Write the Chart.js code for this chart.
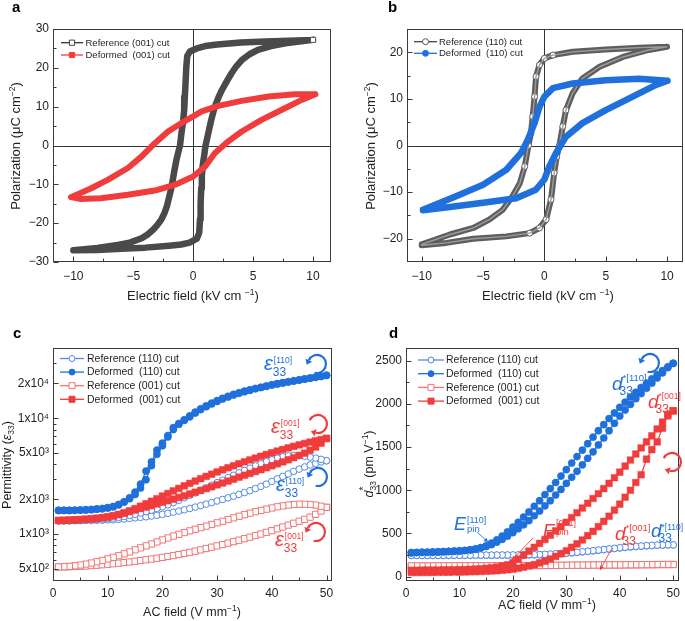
<!DOCTYPE html>
<html>
<head>
<meta charset="utf-8">
<script src="https://cdn.jsdelivr.net/npm/chart.js@4.4.1/dist/chart.umd.min.js"></script>
<style>
  body { margin: 0; background: #fff; }
  #wrap { position: relative; width: 685px; height: 621px; }
  canvas { position: absolute; }
</style>
</head>
<body>
<div id="wrap">
  <canvas id="pa" width="342" height="310" style="left:0;top:0"></canvas>
  <canvas id="pb" width="343" height="310" style="left:342px;top:0"></canvas>
  <canvas id="pc" width="342" height="311" style="left:0;top:310px"></canvas>
  <canvas id="pd" width="343" height="311" style="left:342px;top:310px"></canvas>
</div>
<script>
// ---- panel a : P-E loops, (001) cut ----
const aNames = ['Reference (001) cut', 'Deformed  (001) cut'];
const aRefE = [10, 8, 6, 4, 2, 1, 0.3, -0.28, -0.5, -0.58, -0.64, -0.7, -0.75, -0.85, -0.98, -1.1, -1.25, -1.4, -1.6, -1.8, -2.0, -2.2, -2.4, -2.65, -3.0, -3.35, -3.8, -4.3, -5.3, -6.3, -8, -10,
               -10, -8, -6, -4, -2, -1, -0.3, 0.3, 0.5, 0.57, 0.62, 0.67, 0.72, 0.8, 0.92, 1.03, 1.15, 1.26, 1.5, 1.8, 2.1, 2.4, 2.8, 3.2, 3.6, 4.05, 4.7, 5.4, 6.5, 7.7, 10];
const aRefP = [27.2, 27.0, 26.8, 26.5, 26.0, 25.6, 25.0, 24.2, 23.0, 20.0, 16.0, 12.5, 9.2, 6.0, 3.2, 0.0, -1.8, -3.7, -7.0, -10.6, -13.2, -15.7, -17.4, -19.0, -20.5, -21.7, -22.9, -23.9, -25.0, -25.6, -26.4, -27.0,
               -27.0, -26.9, -26.6, -26.3, -25.8, -25.5, -25.0, -24.0, -22.5, -19.0, -15.0, -11.0, -8.0, -5.0, -2.5, 0.0, 1.6, 3.2, 6.5, 10.0, 12.3, 14.3, 16.5, 18.6, 20.4, 22.0, 23.5, 24.6, 25.6, 26.3, 27.2];
const aDefE = [10.2, 8.5, 6.3, 4.05, 2.1, 0.7, 0, -1, -2.1, -3.2, -4.3, -5.45, -7.1, -8.5, -10.2,
               -9.35, -7.7, -5.45, -3.2, -1.5, 0, 1, 1.8, 2.9, 4.05, 5.7, 7.4, 9.1, 10.2];
const aDefP = [13.2, 13.2, 12.6, 11.5, 10.2, 8.8, 7.5, 5.75, 3.6, 0.6, -2.8, -5.8, -8.8, -11, -13.3,
               -13.8, -13.6, -12.7, -11.6, -10.1, -8, -5.4, -2, 1, 3.6, 6.6, 9.2, 11.8, 13.2];

// ---- panel b : P-E loops, (110) cut ----
const bNames = ['Reference (110) cut', 'Deformed  (110) cut'];
const bRefE = [10, 7.7, 5, 2.3, 0.7, 0, -0.4, -0.68, -0.8, -0.95, -1.1, -1.3, -1.6, -2.0, -2.6, -3.4, -4.5, -5.8, -7.7, -10,
               -10, -8, -5.8, -3.1, -1.2, -0.4, 0.14, 0.54, 0.8, 1.0, 1.22, 1.5, 1.76, 2.3, 3.1, 4.5, 6.4, 8.5, 10];
const bRefP = [21.2, 21.0, 20.6, 20.1, 19.4, 18.7, 17.3, 14.8, 10.5, 6.2, 2.6, 0, -4.5, -8.1, -10.9, -13.8, -15.9, -17.7, -19.1, -21.2,
               -21.4, -20.9, -20.0, -19.5, -18.8, -17.7, -15.9, -11.6, -5.9, -2.4, 0, 4.1, 7.6, 11.2, 14.4, 16.9, 19.0, 20.5, 21.2];
const bDefE = [10.04, 7.7, 5, 2.3, 0.7, 0, -0.4, -0.8, -1.36, -1.9, -3.1, -5, -7.2, -9.9,
               -9.9, -7.7, -5, -2.3, -0.7, 0, 0.4, 0.95, 1.76, 3.1, 5, 7.2, 9.1, 10.04];
const bDefP = [13.9, 14.3, 14.0, 13.3, 12.3, 10.5, 8.3, 4.8, 1.2, -1.6, -5.2, -8.4, -10.9, -13.8,
               -13.9, -13.2, -12.3, -11.3, -9.5, -7.3, -4.5, -1.6, 1.9, 4.8, 7.6, 10.5, 13, 13.9];

// ---- panels c, d : AC field sweeps (up and down, listed at the same field steps) ----
const cdNames = ['Reference (110) cut', 'Deformed  (110) cut', 'Reference (001) cut', 'Deformed  (001) cut'];
const acField = [1,2,3,4,5,6,7,8,9,10,11,12,13,14,15,16,17,18,19,20,21,22,23,24,25,26,27,28,29,30,31,32,33,34,35,36,37,38,39,40,41,42,43,44,45,46,47,48,49,50];

const cDef110Up = [1600,1600,1600,1605,1610,1615,1625,1640,1655,1680, 1720,1790,1900,2060,2300,2700,3500,4200,5300,6100,
  7100,8300,9000,9700,10500,11300,12100,12800,13500,14200, 14900,15500,16100,16600,17150,17600,18100,18550,19000,19500,
  19900,20300,20700,21100,21500,21900,22300,22700,23100,23500];
const cDef110Down = [1600,1600,1600,1605,1610,1620,1630,1645,1660,1690, 1730,1800,1890,2020,2200,2500,2950,3900,4900,5800,
  6900,8000,8900,9600,10300,11100,11900,12600,13300,14000, 14700,15300,15900,16450,17000,17500,18000,18450,18900,19400,
  19800,20200,20600,21000,21400,21800,22200,22600,23000,23500];
const cRef110Up = [1300,1300,1300,1305,1305,1310,1310,1315,1320,1325, 1330,1340,1350,1365,1380,1395,1410,1430,1455,1480,
  1510,1545,1580,1620,1665,1710,1760,1815,1870,1930, 1990,2055,2125,2200,2280,2370,2470,2580,2700,2850,
  3000,3150,3310,3480,3640,3800,3950,4080,4200,4300];
const cRef110Down = [1300,1300,1305,1310,1315,1320,1325,1335,1345,1360, 1375,1395,1420,1450,1480,1520,1560,1610,1660,1720,
  1790,1870,1960,2060,2160,2270,2390,2510,2640,2780, 2920,3070,3220,3380,3540,3710,3880,4050,4220,4380,
  4520,4650,4740,4780,4760,4700,4620,4530,4420,4300];
const cDef001Up = [1310,1315,1320,1325,1330,1340,1350,1365,1380,1400, 1430,1470,1510,1560,1610,1660,1710,1760,1820,1880,
  1940,2000,2070,2140,2220,2300,2380,2470,2560,2660, 2760,2870,2980,3100,3220,3340,3470,3600,3740,3890,
  4040,4200,4380,4570,4780,5000,5300,5650,6100,6700];
const cDef001Down = [1310,1315,1320,1325,1335,1345,1355,1370,1390,1410, 1440,1480,1530,1590,1660,1740,1830,1920,2020,2130,
  2240,2360,2480,2610,2740,2870,3010,3150,3290,3440, 3590,3740,3890,4050,4210,4370,4530,4700,4870,5040,
  5210,5380,5550,5720,5890,6060,6230,6400,6550,6700];
const cRef001Up = [520,520,522,524,527,530,534,538,543,548, 554,560,567,574,582,590,599,608,618,628,
  640,652,665,680,695,712,730,750,770,790, 812,835,860,885,912,940,970,1000,1035,1070,
  1110,1150,1195,1240,1290,1340,1400,1480,1580,1700];
const cRef001Down = [520,522,526,532,540,550,562,576,592,610, 630,650,675,700,730,760,790,820,855,890,
  925,960,995,1030,1065,1100,1135,1170,1210,1250, 1290,1335,1380,1425,1470,1515,1560,1600,1640,1680,
  1720,1750,1780,1800,1810,1810,1800,1780,1740,1700];

const dDef110Up = [278,280,282,283,285,287,289,292,295,298, 303,310,320,333,350,372,400,432,470,510,
  555,600,650,705,760,820,880,945,1010,1080, 1150,1220,1295,1370,1445,1525,1605,1690,1775,1860,
  1930,1995,2060,2120,2180,2240,2300,2360,2420,2470];
const dDef110Down = [278,280,282,283,285,287,289,292,295,298, 303,310,320,336,358,388,425,470,520,575,
  630,690,750,815,880,950,1020,1090,1165,1240, 1315,1390,1465,1540,1615,1690,1760,1830,1895,1960,
  2020,2080,2135,2190,2240,2290,2340,2385,2430,2470];
const dRef110Up = [245,245,245,245,245,245,245,245,246,246, 246,246,247,247,247,247,248,248,248,248,
  249,250,251,252,253,255,258,262,266,270, 275,280,286,292,298,305,312,318,325,332,
  338,343,348,352,356,360,363,365,367,368];
const dRef110Down = [247,247,247,247,247,247,248,248,248,248, 249,249,249,250,250,250,251,251,251,252,
  252,253,254,255,257,259,262,265,269,273, 278,283,289,295,301,308,315,321,328,335,
  341,346,351,355,359,362,365,367,369,368];
const dDef001Up = [48,49,49,50,50,51,52,53,54,55, 56,57,59,61,63,66,70,74,80,88,
  98,110,125,140,160,180,205,235,265,300, 340,380,425,475,525,580,640,700,770,840,
  920,1000,1090,1180,1360,1470,1560,1720,1880,1920];
const dDef001Down = [75,75,76,76,77,77,78,79,80,81, 83,85,88,92,97,103,111,122,136,160,
  205,250,295,340,385,430,480,530,580,630, 685,740,795,850,905,960,1020,1080,1145,1210,
  1280,1350,1420,1490,1560,1630,1710,1790,1860,1920];
const dRef001Up = [122,122,122,123,123,123,123,124,124,124, 124,125,125,125,125,126,126,126,126,127,
  127,127,128,128,128,129,129,130,130,131, 131,132,132,133,133,134,134,135,135,136,
  136,137,137,138,138,139,139,140,140,141];
const dRef001Down = [124,124,124,124,125,125,125,125,126,126, 126,126,127,127,127,127,128,128,128,128,
  129,129,129,130,130,130,131,131,132,132, 133,133,134,134,135,135,136,136,137,137,
  138,138,139,139,140,140,141,141,141,141];

// ---- tick values / labels ----
const peTicks = [-10, -5, 0, 5, 10];
const peLabels = ['\u221210', '\u22125', '0', '5', '10'];
const peMinor = [-7.5, -2.5, 2.5, 7.5];
const aYTicks = [-30, -20, -10, 0, 10, 20, 30];
const aYLabels = ['\u221230', '\u221220', '\u221210', '0', '10', '20', '30'];
const aYMinor = [-25, -15, -5, 5, 15, 25];
const bYTicks = [-20, -10, 0, 10, 20];
const bYLabels = ['\u221220', '\u221210', '0', '10', '20'];
const bYMinor = [-15, -5, 5, 15];
const acTicks = [0, 10, 20, 30, 40, 50];
const acMinor = [5, 15, 25, 35, 45];
const cYTicks = [500, 1000, 2000, 5000, 10000, 20000];
const cYLabels = ['5x10\u00b2', '1x10\u00b3', '2x10\u00b3', '5x10\u00b3', '1x10\u2074', '2x10\u2074'];
const cYMinor = [600, 700, 800, 900, 3000, 4000, 6000, 7000, 8000, 9000, 30000];
const dYTicks = [0, 500, 1000, 1500, 2000, 2500];
const dYMinor = [250, 750, 1250, 1750, 2250];

const FONT = '"Liberation Sans", Arial, Helvetica, sans-serif';
const INK = '#1f1f1f';
const BLUE = '#1f6fdc', RED = '#f03c3c', LBLUE = '#5288e4', LRED = '#f27474', GREY = '#4a4a4a';

Chart.defaults.font.family = FONT;
Chart.defaults.color = INK;
Chart.defaults.animation = false;

function pts(xs, ys) { return xs.map((x, i) => ({ x: x, y: ys[i] })); }
function loop(xs, up, down) {
  const p = xs.map((x, i) => ({ x: x, y: up[i] }));
  for (let i = xs.length - 1; i >= 0; i--) p.push({ x: xs[i], y: down[i] });
  return p;
}

function axis(o) {
  return {
    type: o.type || 'linear', min: o.min, max: o.max, position: o.pos,
    grid: { display: false, drawTicks: false }, border: { display: false },
    ticks: { font: { size: 12 }, color: INK, padding: o.pad, maxRotation: 0, autoSkip: false,
      callback: (v, i) => o.labels ? o.labels[i] : String(v) },
    afterBuildTicks: s => { s.ticks = o.ticks.map(v => ({ value: v })); },
    afterFit: s => { if (o.pos === 'left') s.width = o.size; else s.height = o.size; }
  };
}

function opts(x, y, top, right) {
  return {
    responsive: false, devicePixelRatio: 1, events: [],
    layout: { padding: { left: 0, top: top, right: right, bottom: 0 } },
    plugins: { legend: { display: false }, tooltip: { enabled: false } },
    elements: { line: { borderJoinStyle: 'round', borderCapStyle: 'round' } },
    scales: { x: x, y: y }
  };
}

function rich(ctx, parts, x, y, rot, size) {
  ctx.save();
  ctx.translate(x, y);
  if (rot) ctx.rotate(rot);
  ctx.fillStyle = INK;
  ctx.textBaseline = 'alphabetic';
  const f = p => (p.it ? 'italic ' : '') + (p.s || size) + 'px ' + FONT;
  let cur = 0, pend = 0; const xs = [];
  parts.forEach(p => {
    ctx.font = f(p);
    const w = ctx.measureText(p.t).width;
    xs.push(cur);
    if (p.st) pend = Math.max(pend, w); else { cur += Math.max(w, pend); pend = 0; }
  });
  const x0 = -cur / 2, yb = size * 0.35;
  parts.forEach((p, i) => { ctx.font = f(p); ctx.fillText(p.t, x0 + xs[i], yb + (p.dy || 0)); });
  ctx.restore();
}

function box(chart, t) {
  const { ctx, chartArea: a, scales } = chart;
  const L = Math.round(a.left) + 0.5, R = Math.round(a.right) - 0.5;
  const T = Math.round(a.top) + 0.5, B = Math.round(a.bottom) - 0.5;
  ctx.save();
  ctx.strokeStyle = '#3a3a3a'; ctx.lineWidth = 1;
  ctx.strokeRect(L, T, R - L, B - T);
  ctx.beginPath();
  const tick = (list, len, ax) => list.forEach(v => {
    const p = Math.round(scales[ax].getPixelForValue(v)) + 0.5;
    if (ax === 'x') { ctx.moveTo(p, B); ctx.lineTo(p, B - len); }
    else { ctx.moveTo(L, p); ctx.lineTo(L + len, p); }
  });
  tick(t.xMaj, 5, 'x'); tick(t.xMin, 3, 'x'); tick(t.yMaj, 5, 'y'); tick(t.yMin, 3, 'y');
  ctx.stroke();
  ctx.restore();
}

function zeroLines(chart) {
  const { ctx, chartArea: a, scales: { x, y } } = chart;
  const px = Math.round(x.getPixelForValue(0)) + 0.5, py = Math.round(y.getPixelForValue(0)) + 0.5;
  ctx.save();
  ctx.strokeStyle = '#333'; ctx.lineWidth = 1;
  ctx.beginPath();
  ctx.moveTo(px, a.top); ctx.lineTo(px, a.bottom);
  ctx.moveTo(a.left, py); ctx.lineTo(a.right, py);
  ctx.stroke();
  ctx.restore();
}

function legend(ctx, names, styles, o) {
  ctx.save();
  ctx.font = o.fs + 'px ' + FONT;
  ctx.textBaseline = 'middle';
  names.forEach((n, i) => {
    const s = styles[i], y = o.y0 + i * o.dy, mx = (o.x0 + o.x1) / 2;
    ctx.strokeStyle = s.line; ctx.lineWidth = 1.3;
    ctx.beginPath(); ctx.moveTo(o.x0, y); ctx.lineTo(o.x1, y); ctx.stroke();
    ctx.beginPath();
    if (s.shape === 'rect') ctx.rect(mx - o.m, y - o.m, 2 * o.m, 2 * o.m);
    else ctx.arc(mx, y, o.m, 0, 2 * Math.PI);
    ctx.fillStyle = s.fill ? s.mark : '#fff'; ctx.fill();
    ctx.strokeStyle = s.mark; ctx.lineWidth = 1; ctx.stroke();
    ctx.fillStyle = INK; ctx.fillText(n, o.tx, y + 0.5);
  });
  ctx.restore();
}

function letter(ctx, ch, x, y) {
  ctx.save();
  ctx.font = 'bold 15px ' + FONT; ctx.fillStyle = '#000';
  ctx.fillText(ch, x, y);
  ctx.restore();
}

// symbol with stacked superscript / subscript, e.g. eps_33^[110]
function ann(ctx, o) {
  ctx.save();
  ctx.fillStyle = o.c; ctx.textBaseline = 'alphabetic';
  ctx.font = 'italic ' + o.ms + 'px ' + FONT;
  ctx.fillText(o.m, o.x, o.y);
  const w = ctx.measureText(o.m).width;
  ctx.font = o.ss + 'px ' + FONT;
  ctx.fillText(o.sup, o.x + w + (o.supdx || 0), o.y + o.supdy);
  ctx.font = o.bs + 'px ' + FONT;
  ctx.fillText(o.sub, o.x + w + (o.subdx || 0), o.y + o.subdy);
  ctx.restore();
}
const EPS = { m: '\u03b5', ms: 20, ss: 8.5, supdy: -7, supdx: 1, bs: 12, subdy: 6, subdx: 0 };
const DST = { m: 'd', ms: 19, ss: 9.5, supdy: -9, supdx: 0, bs: 12, subdy: 5, subdx: -3 };
const EPN = { m: 'E', ms: 18, ss: 9, supdy: -7, supdx: 1, bs: 9.5, subdy: 2, subdx: 1 };

function head(ctx, x, y, dx, dy, len, wid) {
  const nx = -dy, ny = dx;
  ctx.beginPath();
  ctx.moveTo(x + dx * len, y + dy * len);
  ctx.lineTo(x + nx * wid, y + ny * wid);
  ctx.lineTo(x - nx * wid, y - ny * wid);
  ctx.closePath(); ctx.fill();
}

// curved sweep-direction arrow: arc drawn clockwise from a0 to a1 (degrees)
function curl(ctx, cx, cy, r, color, atStart) {
  const a0 = 205 * Math.PI / 180, a1 = 465 * Math.PI / 180;
  ctx.save();
  ctx.strokeStyle = color; ctx.fillStyle = color; ctx.lineWidth = 2.2;
  ctx.beginPath(); ctx.arc(cx, cy, r, a0, a1); ctx.stroke();
  const a = atStart ? a0 : a1, s = atStart ? -1 : 1;
  head(ctx, cx + r * Math.cos(a), cy + r * Math.sin(a), -Math.sin(a) * s, Math.cos(a) * s, 5, 3.6);
  ctx.restore();
}

function thinArrow(ctx, x0, y0, x1, y1, color) {
  ctx.save();
  ctx.strokeStyle = color; ctx.fillStyle = color; ctx.lineWidth = 0.9;
  ctx.beginPath(); ctx.moveTo(x0, y0); ctx.lineTo(x1, y1); ctx.stroke();
  const L = Math.hypot(x1 - x0, y1 - y0), dx = (x1 - x0) / L, dy = (y1 - y0) / L;
  head(ctx, x1 - dx * 4, y1 - dy * 4, dx, dy, 4, 2.2);
  ctx.restore();
}

function deco(id, under, over) {
  return { id: id, beforeDatasetsDraw: c => { if (under) under(c); }, afterDraw: c => over(c) };
}

// ---------------- panel a ----------------
new Chart(document.getElementById('pa'), {
  type: 'scatter',
  data: { datasets: [
    { data: pts(aDefE, aDefP), showLine: true, borderColor: RED, borderWidth: 6, pointRadius: 0, order: 0 },
    { data: pts(aRefE, aRefP), showLine: true, borderColor: GREY, borderWidth: 6.5, order: 1,
      pointRadius: c => c.dataIndex === 0 ? 3.6 : 0, pointStyle: 'rect',
      pointBackgroundColor: '#fff', pointBorderColor: '#555', pointBorderWidth: 1 }
  ] },
  options: opts(
    axis({ pos: 'bottom', min: -11.7, max: 11.5, ticks: peTicks, labels: peLabels, pad: 7, size: 48 }),
    axis({ pos: 'left', min: -30, max: 30, ticks: aYTicks, labels: aYLabels, pad: 4, size: 53 }), 29, 11),
  plugins: [deco('decoA', zeroLines, chart => {
    const ctx = chart.ctx;
    box(chart, { xMaj: peTicks, xMin: peMinor, yMaj: aYTicks, yMin: aYMinor });
    legend(ctx, aNames, [{ line: '#333', mark: '#444', shape: 'rect' }, { line: RED, mark: RED, shape: 'rect', fill: true }],
      { x0: 61, x1: 83, tx: 85.5, y0: 42.7, dy: 12.3, fs: 9.5, m: 2.6 });
    rich(ctx, [{ t: 'Polarization (\u03bcC cm' }, { t: '\u22122', s: 8.5, dy: -5 }, { t: ')' }], 15, 146, -Math.PI / 2, 13);
    rich(ctx, [{ t: 'Electric field (kV cm ' }, { t: '\u22121', s: 8.5, dy: -5 }, { t: ')' }], 193, 295, 0, 13);
    letter(ctx, 'a', 12, 12);
  })]
});

// ---------------- panel b ----------------
// the reference loop is a dense string of hollow circles: a grey band with a faint light core,
// single circles only where the branches switch steeply
new Chart(document.getElementById('pb'), {
  type: 'scatter',
  data: { datasets: [
    { data: pts(bDefE, bDefP), showLine: true, borderColor: BLUE, borderWidth: 6.5, pointRadius: 0, order: 0 },
    { data: pts(bRefE, bRefP), showLine: true, borderColor: '#9c9c9c', borderWidth: 1.4, pointRadius: 0, order: 1 },
    { data: pts(bRefE, bRefP), showLine: true, borderColor: '#5e5e5e', borderWidth: 6, order: 2,
      pointRadius: c => Math.abs(c.raw.x) < 1.8 ? 3 : 0, pointStyle: 'circle',
      pointBackgroundColor: '#fff', pointBorderColor: '#5e5e5e', pointBorderWidth: 1 }
  ] },
  options: opts(
    axis({ pos: 'bottom', min: -11.2, max: 11.3, ticks: peTicks, labels: peLabels, pad: 7, size: 48 }),
    axis({ pos: 'left', min: -25, max: 25, ticks: bYTicks, labels: bYLabels, pad: 4, size: 65 }), 29, 2),
  plugins: [deco('decoB', zeroLines, chart => {
    const ctx = chart.ctx;
    box(chart, { xMaj: peTicks, xMin: peMinor, yMaj: bYTicks, yMin: bYMinor });
    legend(ctx, bNames, [{ line: '#444', mark: '#555', shape: 'circle' }, { line: BLUE, mark: BLUE, shape: 'circle', fill: true }],
      { x0: 72, x1: 95, tx: 97, y0: 41.7, dy: 11.6, fs: 9.5, m: 3 });
    rich(ctx, [{ t: 'Polarization (\u03bcC cm' }, { t: '\u22122', s: 8.5, dy: -5 }, { t: ')' }], 28, 146, -Math.PI / 2, 13);
    rich(ctx, [{ t: 'Electric field (kV cm ' }, { t: '\u22121', s: 8.5, dy: -5 }, { t: ')' }], 206, 295, 0, 13);
    letter(ctx, 'b', 46, 12);
  })]
});

// ---------------- panel c ----------------
function acSet(data, color, shape, filled, order) {
  return { data: data, showLine: true, borderColor: color, borderWidth: 1.2, order: order,
    pointStyle: shape, pointRadius: shape === 'rect' ? (filled ? 4.7 : 4.4) : (filled ? 3.6 : 3.3),
    pointBackgroundColor: filled ? color : '#fff', pointBorderColor: color, pointBorderWidth: filled ? 0.5 : 1 };
}
const cdStyles = [
  { line: LBLUE, mark: LBLUE, shape: 'circle' }, { line: BLUE, mark: BLUE, shape: 'circle', fill: true },
  { line: LRED, mark: LRED, shape: 'rect' }, { line: RED, mark: RED, shape: 'rect', fill: true }];

new Chart(document.getElementById('pc'), {
  type: 'scatter',
  data: { datasets: [
    acSet(loop(acField, cDef110Up, cDef110Down), BLUE, 'circle', true, 0),
    acSet(loop(acField, cDef001Up, cDef001Down), RED, 'rect', true, 1),
    acSet(loop(acField, cRef110Up, cRef110Down), LBLUE, 'circle', false, 2),
    acSet(loop(acField, cRef001Up, cRef001Down), LRED, 'rect', false, 3)
  ] },
  options: opts(
    axis({ pos: 'bottom', min: 0, max: 51, ticks: acTicks, pad: 5, size: 40 }),
    axis({ pos: 'left', type: 'logarithmic', min: 393, max: 40500, ticks: cYTicks, labels: cYLabels, pad: 4, size: 53 }), 38, 10),
  plugins: [deco('decoC', null, chart => {
    const ctx = chart.ctx;
    box(chart, { xMaj: acTicks, xMin: acMinor, yMaj: cYTicks, yMin: cYMinor });
    legend(ctx, cdNames, cdStyles, { x0: 60, x1: 84, tx: 87, y0: 48.5, dy: 13.6, fs: 10.5, m: 3 });
    rich(ctx, [{ t: 'Permittivity (' }, { t: '\u03b5', it: true }, { t: '33', s: 8.5, dy: 3 }, { t: ')' }], 7, 155, -Math.PI / 2, 12.5);
    rich(ctx, [{ t: 'AC field (V mm' }, { t: '\u22121', s: 8.5, dy: -5 }, { t: ')' }], 192, 302, 0, 12.5);
    letter(ctx, 'c', 13, 28);
    ann(ctx, Object.assign({}, EPS, { x: 264, y: 60, sup: '[110]', sub: '33', c: BLUE }));
    curl(ctx, 317, 54, 9, BLUE, true);
    ann(ctx, Object.assign({}, EPS, { x: 271, y: 123, sup: '[001]', sub: '33', c: RED }));
    curl(ctx, 318, 114, 9, RED, false);
    ann(ctx, Object.assign({}, EPS, { x: 276, y: 181, sup: '[110]', sub: '33', c: BLUE }));
    curl(ctx, 318, 167, 9, BLUE, true);
    ann(ctx, Object.assign({}, EPS, { x: 275, y: 236, sup: '[001]', sub: '33', c: RED }));
    curl(ctx, 316, 222, 9, RED, true);
  })]
});

// ---------------- panel d ----------------
new Chart(document.getElementById('pd'), {
  type: 'scatter',
  data: { datasets: [
    acSet(loop(acField, dDef110Up, dDef110Down), BLUE, 'circle', true, 0),
    acSet(loop(acField, dDef001Up, dDef001Down), RED, 'rect', true, 1),
    acSet(loop(acField, dRef110Up, dRef110Down), LBLUE, 'circle', false, 2),
    acSet(loop(acField, dRef001Up, dRef001Down), LRED, 'rect', false, 3)
  ] },
  options: opts(
    axis({ pos: 'bottom', min: 0, max: 51, ticks: acTicks, pad: 5, size: 40 }),
    axis({ pos: 'left', min: -50, max: 2647, ticks: dYTicks, pad: 4, size: 64 }), 38, 2),
  plugins: [deco('decoD', null, chart => {
    const ctx = chart.ctx;
    box(chart, { xMaj: acTicks, xMin: acMinor, yMaj: dYTicks, yMin: dYMinor });
    legend(ctx, cdNames, cdStyles, { x0: 76, x1: 102, tx: 104, y0: 50, dy: 13.7, fs: 10.5, m: 3 });
    rich(ctx, [{ t: 'd', it: true }, { t: '*', s: 10, dy: -6, st: true }, { t: '33', s: 8.5, dy: 3 },
      { t: ' (pm V' }, { t: '\u22121', s: 8.5, dy: -5 }, { t: ')' }], 27, 154, -Math.PI / 2, 12.5);
    rich(ctx, [{ t: 'AC field (V mm' }, { t: '\u22121', s: 8.5, dy: -5 }, { t: ')' }], 205, 295, 0, 12.5);
    letter(ctx, 'd', 47, 28);
    ann(ctx, Object.assign({}, DST, { x: 270, y: 80, sup: '*[110]', sub: '33', c: BLUE }));
    curl(ctx, 308, 53, 9, BLUE, true);
    ann(ctx, Object.assign({}, DST, { x: 306, y: 98, sup: '*[001]', sub: '33', c: RED, ss: 8.5 }));
    curl(ctx, 330, 152, 9, RED, false);
    ann(ctx, Object.assign({}, EPN, { x: 112, y: 220, sup: '[110]', sub: 'pin', c: BLUE }));
    thinArrow(ctx, 135, 222, 146, 232, BLUE);
    ann(ctx, Object.assign({}, EPN, { x: 201, y: 227, sup: '[001]', sub: 'pin', c: RED, supdy: -11, subdy: -2 }));
    thinArrow(ctx, 191, 228, 170, 250, RED);
    ann(ctx, Object.assign({}, DST, { x: 273, y: 230, sup: '*[001]', sub: '33', c: RED }));
    thinArrow(ctx, 270, 238, 258, 260, RED);
    ann(ctx, Object.assign({}, DST, { x: 309, y: 227, sup: '*[110]', sub: '33', c: BLUE, ss: 8.5, supdy: -7 }));
  })]
});
</script>
</body>
</html>
